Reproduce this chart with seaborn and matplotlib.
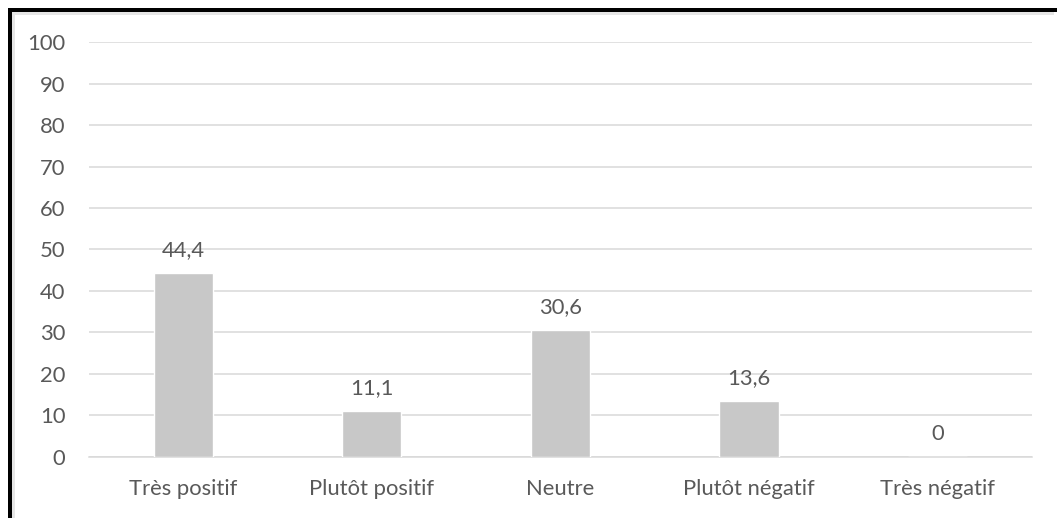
import matplotlib
matplotlib.use("Agg")
import matplotlib.pyplot as plt
from matplotlib.patches import Rectangle
import seaborn as sns
import pandas as pd

categories = ["Très positif", "Plutôt positif", "Neutre", "Plutôt négatif", "Très négatif"]
values = [44.4, 11.1, 30.6, 13.6, 0.0]
value_labels = ["44,4", "11,1", "30,6", "13,6", "0"]
y_ticks = [0, 10, 20, 30, 40, 50, 60, 70, 80, 90, 100]

sns.set_theme(style="white")
plt.rcParams["font.family"] = ["Lato", "DejaVu Sans"]

text_color = "#595959"
grid_color = "#d9d9d9"
bar_color = "#c8c8c8"

df = pd.DataFrame({"categorie": categories, "valeur": values})

fig = plt.figure(figsize=(10.57, 5.18), dpi=100)
ax = fig.add_axes([0.0842, 0.1178, 0.892, 0.8011])

sns.barplot(data=df, x="categorie", y="valeur", color=bar_color,
            saturation=1, width=0.313, ax=ax, zorder=3)

ax.set_ylim(0, 100)
ax.set_xlim(-0.5, len(categories) - 0.5)
ax.set_yticks(y_ticks)
ax.set_yticklabels([str(t) for t in y_ticks])
ax.yaxis.grid(True, color=grid_color, linewidth=1.1, zorder=0)
ax.set_axisbelow(True)
for side in ["top", "right", "left"]:
    ax.spines[side].set_visible(False)
ax.spines["bottom"].set_color(grid_color)
ax.spines["bottom"].set_linewidth(1.1)
ax.tick_params(axis="both", length=0, labelsize=15.8, colors=text_color)
ax.tick_params(axis="y", pad=17)
ax.tick_params(axis="x", pad=16)
ax.set_xlabel("")
ax.set_ylabel("")

for i, (v, lab) in enumerate(zip(values, value_labels)):
    ax.annotate(lab, xy=(i, v), xytext=(0, 9), textcoords="offset points",
                ha="center", va="bottom", fontsize=15.8, color=text_color)

# frame edges on the left and top (pixel-based rectangles in figure fraction)
W, H = 1057.0, 518.0
def px_rect(x0, y0, x1, y1, color):
    fig.add_artist(Rectangle((x0 / W, 1 - y1 / H), (x1 - x0) / W, (y1 - y0) / H,
                             transform=fig.transFigure, facecolor=color,
                             edgecolor="none", zorder=10))

px_rect(12, 12, 15, H, "#e6e6e6")
px_rect(12, 12, 1054, 15, "#e6e6e6")
px_rect(8, 8, 12, H, "black")
px_rect(8, 8, W, 12, "black")

fig.savefig("out.png", dpi=100, facecolor="white")
